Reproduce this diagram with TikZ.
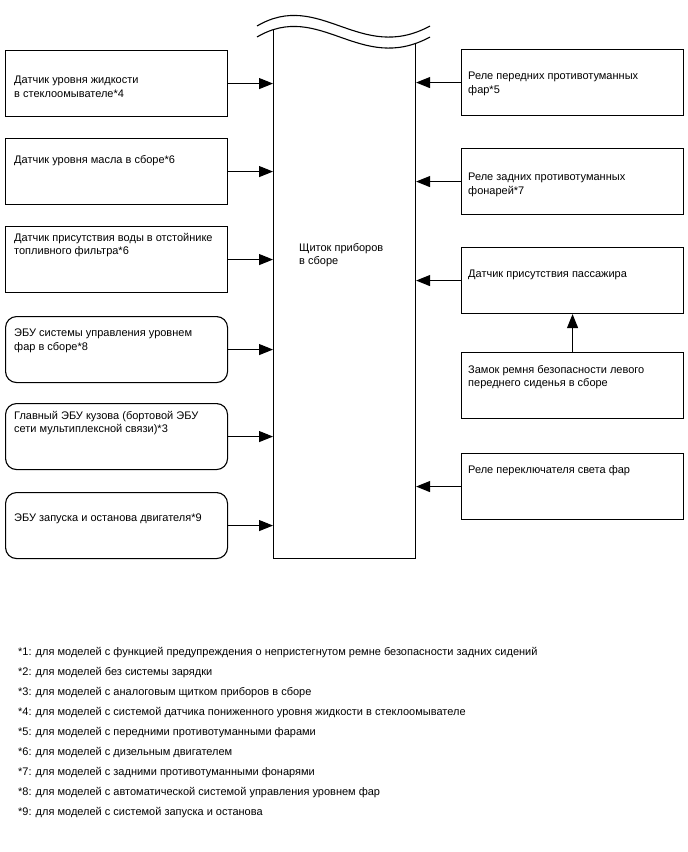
\documentclass[tikz,border=0pt]{standalone}
\usepackage{fontspec}
\setmainfont{Liberation Sans}
\usetikzlibrary{arrows.meta}

\tikzset{
  box/.style={draw, line width=1.1pt, minimum width=222pt, minimum height=66pt, anchor=north west, inner sep=0pt},
  rbox/.style={box, rounded corners=11pt},
  txt/.style={anchor=north west, align=left, inner sep=0pt, font=\fontsize{11}{13.5}\selectfont},
  link/.style={line width=1.1pt, -{Triangle[length=14pt,width=11pt]}},
  wave/.style={line width=1.1pt}
}

\begin{document}
\begin{tikzpicture}[x=1pt,y=-1pt]
\useasboundingbox (0,0) rectangle (688,852);

% instrument panel with the break at the top
\node[box, minimum width=142pt, minimum height=536pt,
  label={[txt, xshift=26pt, yshift=-221pt]north west:Щиток приборов\\в сборе}] (panel) at (273,22) {};
\fill[white] (250,0) -- (257,37) .. controls (320,0) and (360,75) .. (430,37) -- (440,0) -- cycle;
\draw[wave] (257,37) .. controls (320,0) and (360,75) .. (430,37);
\draw[wave] (257,26) .. controls (320,-11) and (360,64) .. (430,26);

% inputs on the left
\node[box, label={[txt, xshift=9pt, yshift=-26pt]north west:Датчик уровня жидкости\\в стеклоомывателе*4}] (l1) at (5,50) {};
\node[box, label={[txt, xshift=9pt, yshift=-17pt]north west:Датчик уровня масла в сборе*6}] (l2) at (5,138) {};
\node[box, label={[txt, xshift=9pt, yshift=-7pt]north west:Датчик присутствия воды в отстойнике\\топливного фильтра*6}] (l3) at (5,226) {};
\node[rbox, label={[txt, xshift=9pt, yshift=-13pt]north west:ЭБУ системы управления уровнем\\фар в сборе*8}] (l4) at (5,316) {};
\node[rbox, label={[txt, xshift=9pt, yshift=-8pt]north west:Главный ЭБУ кузова (бортовой ЭБУ\\сети мультиплексной связи)*3}] (l5) at (5,403) {};
\node[rbox, label={[txt, xshift=9pt, yshift=-22pt]north west:ЭБУ запуска и останова двигателя*9}] (l6) at (5,492) {};

% inputs on the right
\node[box, label={[txt, xshift=7pt, yshift=-23pt]north west:Реле передних противотуманных\\фар*5}] (r1) at (461,49) {};
\node[box, label={[txt, xshift=7pt, yshift=-25pt]north west:Реле задних противотуманных\\фонарей*7}] (r2) at (461,148) {};
\node[box, label={[txt, xshift=7pt, yshift=-23pt]north west:Датчик присутствия пассажира}] (r3) at (461,247) {};
\node[box, label={[txt, xshift=7pt, yshift=-13pt]north west:Замок ремня безопасности левого\\переднего сиденья в сборе}] (r4) at (461,352) {};
\node[box, label={[txt, xshift=7pt, yshift=-12pt]north west:Реле переключателя света фар}] (r5) at (461,453) {};

\foreach \n in {l1,l2,l3,l4,l5,l6}
  \draw[link] (\n.east) -- (\n.east -| panel.west);
\foreach \n in {r1,r2,r3,r5}
  \draw[link] (\n.west) -- (\n.west -| panel.east);
\draw[link] (r4) -- (r3);

% notes
\foreach \t [count=\i] in {
  *1: для моделей с функцией предупреждения о непристегнутом ремне безопасности задних сидений,
  *2: для моделей без системы зарядки,
  *3: для моделей с аналоговым щитком приборов в сборе,
  *4: для моделей с системой датчика пониженного уровня жидкости в стеклоомывателе,
  *5: для моделей с передними противотуманными фарами,
  *6: для моделей с дизельным двигателем,
  *7: для моделей с задними противотуманными фонарями,
  *8: для моделей с автоматической системой управления уровнем фар,
  *9: для моделей с системой запуска и останова}
  \node[anchor=west, inner sep=0pt, font=\fontsize{11}{13}\selectfont] (note\i) at (18,633+20*\i) {\t};

\end{tikzpicture}
\end{document}
